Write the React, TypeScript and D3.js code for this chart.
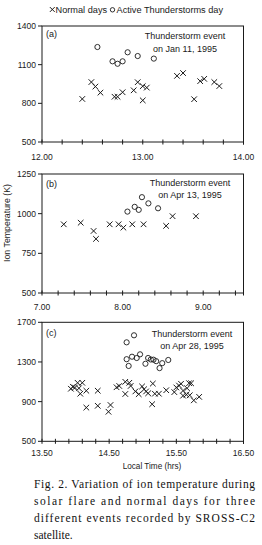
import React from 'react';
import * as d3 from 'd3';

// [local time (hrs), ion temperature (K)]
const aNormal: [number, number][] = [
  [12.40, 834], [12.49, 965], [12.53, 930], [12.58, 883], [12.72, 851], [12.75, 851],
  [12.80, 886], [12.91, 901], [12.95, 964], [13.00, 933], [13.04, 922], [13.00, 823],
  [13.34, 1013], [13.40, 1035], [13.51, 832], [13.57, 972], [13.61, 990], [13.71, 965],
  [13.76, 934],
];
const aStorm: [number, number][] = [
  [12.55, 1237], [12.70, 1126], [12.75, 1107], [12.80, 1126], [12.85, 1196], [12.95, 1167],
  [13.11, 1147],
];

const bNormal: [number, number][] = [
  [7.27, 933], [7.48, 943], [7.64, 891], [7.67, 841], [7.84, 933], [7.95, 933],
  [8.01, 912], [8.12, 933], [8.26, 933], [8.54, 923], [8.62, 984], [8.91, 984],
];
const bStorm: [number, number][] = [
  [8.06, 1013], [8.15, 1043], [8.20, 1024], [8.24, 1104], [8.32, 1065], [8.44, 1034],
];

const cNormal: [number, number][] = [
  [13.93, 1030], [13.96, 1050], [13.99, 1042], [14.03, 1090], [14.05, 1035], [14.10, 1090],
  [14.07, 980], [14.16, 1010], [14.16, 840], [14.33, 1010], [14.33, 858], [14.52, 866],
  [14.49, 798],
  [14.61, 1045], [14.65, 1058], [14.74, 1100], [14.74, 977], [14.80, 1090], [14.82, 1058],
  [14.89, 1003], [14.94, 975], [14.99, 1053], [15.02, 1025], [15.05, 1003], [15.08, 984],
  [15.15, 1082], [15.14, 874], [15.18, 980], [15.24, 980], [15.35, 1015],
  [15.47, 996], [15.50, 1043], [15.54, 1062], [15.57, 1080], [15.60, 1011], [15.66, 1035],
  [15.69, 1086], [15.72, 1085], [15.60, 960], [15.65, 970], [15.70, 964], [15.76, 913],
  [15.84, 948],
];
const cStorm: [number, number][] = [
  [14.76, 1498], [14.87, 1569], [14.76, 1328], [14.79, 1260], [14.84, 1353], [14.91, 1340],
  [14.96, 1377], [15.04, 1282], [15.08, 1340], [15.12, 1325], [15.16, 1323], [15.20, 1308],
  [15.25, 1238], [15.29, 1288], [15.38, 1320],
];

const aXLabels = [12, 13, 14];
const bXLabels = [7, 8, 9];
const cXLabels = [13.5, 14.5, 15.5, 16.5];
const aYTicks = [500, 800, 1100, 1400];
const bYTicks = [500, 750, 1000, 1250];
const cYTicks = [500, 900, 1300, 1700];

const captionLines = [
  'Fig. 2. Variation of ion temperature during',
  'solar flare and normal days for three',
  'different events recorded by SROSS-C2',
  'satellite.',
];

const SANS = '"Liberation Sans", Arial, sans-serif';
const SERIF = '"Liberation Serif", "Times New Roman", serif';
const INK = '#1a1a1a';

const Cross = ({ x, y, s = 2.8 }: { x: number; y: number; s?: number }) => (
  <path d={`M${x - s},${y - s}L${x + s},${y + s}M${x - s},${y + s}L${x + s},${y - s}`}
    stroke={INK} strokeWidth={1} fill="none" />
);
const Ring = ({ x, y, r = 2.6 }: { x: number; y: number; r?: number }) => (
  <circle cx={x} cy={y} r={r} stroke={INK} strokeWidth={0.9} fill="none" />
);

type PanelProps = {
  tag: string;
  event: string[];
  xDomain: [number, number];
  yDomain: [number, number];
  top: number;
  bottom: number;
  xLabels: number[];
  yTicks: number[];
  labelY: number;
  tagY: number;
  eventX: number;
  eventY: number[];
  normal: [number, number][];
  storm: [number, number][];
};

const Panel = (p: PanelProps) => {
  const left = 42;
  const right = 243.5;
  const x = d3.scaleLinear().domain(p.xDomain).range([left, right]);
  const y = d3.scaleLinear().domain(p.yDomain).range([p.bottom, p.top]);
  // minor ticks every 0.2 hrs from the start of the axis
  const n = Math.floor((p.xDomain[1] - p.xDomain[0]) / 0.2 + 1e-6);
  const minor = d3.range(n + 1).map((i) => p.xDomain[0] + i * 0.2);
  return (
    <g>
      <rect x={left} y={p.top} width={right - left} height={p.bottom - p.top}
        fill="none" stroke={INK} strokeWidth={1} />
      {minor.concat([p.xDomain[1]]).map((t, i) => (
        <line key={i} x1={x(t)} x2={x(t)} y1={p.bottom - 2.5} y2={p.bottom + 2.5}
          stroke={INK} strokeWidth={1} />
      ))}
      {p.yTicks.map((t) => (
        <g key={t}>
          <line x1={left - 4} x2={left} y1={y(t)} y2={y(t)} stroke={INK} strokeWidth={1} />
          <text x={36} y={y(t)} dy="0.35em" textAnchor="end" fontSize={8.5}
            fontFamily={SANS} fill={INK}>{t}</text>
        </g>
      ))}
      {p.xLabels.map((t) => (
        <text key={t} x={x(t)} y={p.labelY} textAnchor="middle" fontSize={8.5}
          fontFamily={SANS} fill={INK}>{t.toFixed(2)}</text>
      ))}
      <text x={46} y={p.tagY} fontSize={9} fontFamily={SANS} fill={INK}>{p.tag}</text>
      {p.event.map((s, i) => (
        <text key={i} x={p.eventX} y={p.eventY[i]} textAnchor="middle" fontSize={9}
          fontFamily={SANS} fill={INK}>{s}</text>
      ))}
      {p.normal.map((d, i) => <Cross key={'n' + i} x={x(d[0])} y={y(d[1])} />)}
      {p.storm.map((d, i) => <Ring key={'s' + i} x={x(d[0])} y={y(d[1])} />)}
    </g>
  );
};

export default function App() {
  return (
    <svg width={262} height={545} style={{ position: 'absolute', left: 0, top: 0, background: '#fff' }}>
      <rect width={262} height={545} fill="#fff" />
      {/* legend */}
      <Cross x={52.3} y={9.5} s={2.4} />
      <text x={55.5} y={12.5} fontSize={9.2} fontFamily={SANS} fill={INK}>Normal days</text>
      <Ring x={112.5} y={9.8} r={2.2} />
      <text x={116.5} y={12.5} fontSize={9.2} fontFamily={SANS} fill={INK}>Active Thunderstorms day</text>

      <Panel tag="(a)" event={['Thunderstorm event', 'on Jan 11, 1995']}
        xDomain={[12, 14]} yDomain={[500, 1400]} top={26} bottom={142}
        xLabels={aXLabels} yTicks={aYTicks} labelY={160} tagY={37}
        eventX={185} eventY={[39, 52]} normal={aNormal} storm={aStorm} />
      <Panel tag="(b)" event={['Thunderstorm event', 'on Apr 13, 1995']}
        xDomain={[7, 9.5]} yDomain={[500, 1250]} top={174} bottom={293}
        xLabels={bXLabels} yTicks={bYTicks} labelY={310} tagY={187}
        eventX={190} eventY={[186, 198]} normal={bNormal} storm={bStorm} />
      <Panel tag="(c)" event={['Thunderstorm event', 'on Apr 28, 1995']}
        xDomain={[13.5, 16.5]} yDomain={[500, 1700]} top={322.3} bottom={441.3}
        xLabels={cXLabels} yTicks={cYTicks} labelY={456} tagY={336}
        eventX={192} eventY={[337, 349]} normal={cNormal} storm={cStorm} />

      <text transform="translate(10,223) rotate(-90)" textAnchor="middle" fontSize={8.8}
        fontFamily={SANS} fill={INK}>Ion Temperature (K)</text>
      <text x={152} y={469} textAnchor="middle" fontSize={8.2} fontFamily={SANS}
        fill={INK}>Local Time (hrs)</text>

      {captionLines.map((s, i) => (
        <text key={i} x={34} y={488 + i * 17} fontSize={11.5} fontFamily={SERIF} fill="#111"
          {...(i < 3 ? { textLength: 221, lengthAdjust: 'spacing' } : {})}>{s}</text>
      ))}
    </svg>
  );
}
